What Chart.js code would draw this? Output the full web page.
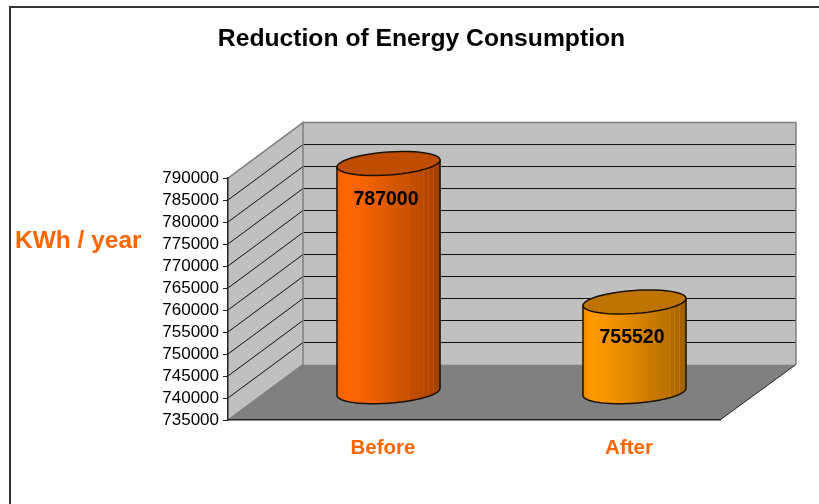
<!DOCTYPE html>
<html>
<head>
<meta charset="utf-8">
<title>Reduction of Energy Consumption</title>
<script src="https://cdn.jsdelivr.net/npm/chart.js@4"></script>
<style>
  html, body { margin: 0; padding: 0; background: #fff; }
  canvas { display: block; }
</style>
</head>
<body>
<canvas id="myChart" width="819" height="504"></canvas>
<script>
const categories = ["Before", "After"];
const consumption = [787000, 755520];
const yMin = 735000;
const yMax = 790000;
const yStep = 5000;
const unitLabel = "KWh / year";
const chartTitle = "Reduction of Energy Consumption";

const barColors = [[255, 102, 0], [255, 153, 0]];
// brightness across the cylinder, left to right
const shade = [[0, 0.93], [0.08, 1], [0.3, 0.95], [0.55, 0.84], [0.8, 0.74], [1, 0.62]];
// thin lighter bands on the dark side of the cylinder
const streaks = [0.69, 0.83, 0.88, 0.93];
const depthX = 75;
const depthY = 55.5;
const fontName = '"Liberation Sans", Arial, sans-serif';

const rgb = (c, f) => `rgb(${Math.round(c[0] * f)}, ${Math.round(c[1] * f)}, ${Math.round(c[2] * f)})`;

const drawWalls = (chart) => {
  const ctx = chart.ctx;
  const area = chart.chartArea;
  const yScale = chart.scales.y;
  const l = area.left, r = area.right, t = area.top, b = area.bottom;

  ctx.save();
  // outer frame, only left and top show up
  ctx.strokeStyle = "#333";
  ctx.lineWidth = 2;
  ctx.beginPath();
  ctx.moveTo(10, 504);
  ctx.lineTo(10, 7);
  ctx.lineTo(819, 7);
  ctx.stroke();

  // back wall and side wall
  ctx.fillStyle = "#c0c0c0";
  ctx.fillRect(l + depthX, t - depthY, r - l + 1, b - t);
  ctx.beginPath();
  ctx.moveTo(l, t);
  ctx.lineTo(l + depthX, t - depthY);
  ctx.lineTo(l + depthX, b - depthY);
  ctx.lineTo(l, b);
  ctx.closePath();
  ctx.fill();

  // floor
  ctx.fillStyle = "#808080";
  ctx.beginPath();
  ctx.moveTo(l, b);
  ctx.lineTo(l + depthX, b - depthY);
  ctx.lineTo(r + depthX + 1, b - depthY);
  ctx.lineTo(r, b);
  ctx.closePath();
  ctx.fill();

  // grid lines
  ctx.lineWidth = 1;
  ctx.strokeStyle = "#111";
  yScale.ticks.forEach((tick) => {
    if (tick.value === yMin || tick.value === yMax) return;
    const y = yScale.getPixelForValue(tick.value);
    ctx.beginPath();
    ctx.moveTo(l, y);
    ctx.lineTo(l + depthX, y - depthY);
    ctx.lineTo(r + depthX + 1, y - depthY);
    ctx.stroke();
  });

  // wall outline
  ctx.strokeStyle = "#808080";
  ctx.lineWidth = 1.5;
  ctx.beginPath();
  ctx.moveTo(l, b);
  ctx.lineTo(l + depthX, b - depthY);
  ctx.lineTo(l + depthX, t - depthY);
  ctx.lineTo(l, t);
  ctx.moveTo(l + depthX, t - depthY);
  ctx.lineTo(r + depthX + 1, t - depthY);
  ctx.lineTo(r + depthX + 1, b - depthY);
  ctx.stroke();

  // floor right edge
  ctx.strokeStyle = "#222";
  ctx.lineWidth = 1;
  ctx.beginPath();
  ctx.moveTo(r, b);
  ctx.lineTo(r + depthX + 1, b - depthY);
  ctx.stroke();

  // axis title sits flat left of the ticks
  ctx.fillStyle = "#ff6600";
  ctx.font = `bold 24.5px ${fontName}`;
  ctx.textAlign = "left";
  ctx.textBaseline = "middle";
  ctx.fillText(unitLabel, 15, 241);
  ctx.restore();
};

const ellipsePath = (ctx, cx, cy, rx, ry, lean, from, to) => {
  const steps = 48;
  for (let i = 0; i <= steps; i++) {
    const a = from + ((to - from) * i) / steps;
    const px = cx + rx * Math.cos(a);
    const py = cy + ry * Math.sin(a) - (lean * Math.cos(a));
    if (i === 0 && from === 0 && to === Math.PI * 2) ctx.moveTo(px, py);
    else ctx.lineTo(px, py);
  }
};

const drawCylinder = (chart, bar, color) => {
  const ctx = chart.ctx;
  const rx = bar.width / 2;
  const ry = 11.5;
  const lean = 3.5;
  const cx = bar.x + depthX / 2;
  const top = bar.y - depthY / 2;
  const base = bar.base - depthY / 2;

  const grad = ctx.createLinearGradient(cx - rx, 0, cx + rx, 0);
  shade.forEach((s) => grad.addColorStop(s[0], rgb(color, s[1])));

  const bodyPath = () => {
    ctx.beginPath();
    ctx.moveTo(cx - rx, top + lean);
    ctx.lineTo(cx - rx, base + lean);
    ellipsePath(ctx, cx, base, rx, ry, lean, Math.PI, 0);
    ctx.lineTo(cx + rx, top - lean);
    ctx.closePath();
  };

  ctx.save();
  ctx.lineJoin = "round";

  bodyPath();
  ctx.fillStyle = grad;
  ctx.fill();

  ctx.save();
  ctx.clip();
  ctx.strokeStyle = rgb(color, 0.85);
  ctx.globalAlpha = 0.6;
  ctx.lineWidth = 1;
  streaks.forEach((s) => {
    const x = Math.round(cx - rx + s * rx * 2) + 0.5;
    ctx.beginPath();
    ctx.moveTo(x, top - ry - lean);
    ctx.lineTo(x, base + ry + lean);
    ctx.stroke();
  });
  ctx.restore();

  ctx.lineWidth = 1.5;
  ctx.strokeStyle = "#1a1000";
  bodyPath();
  ctx.stroke();

  ctx.beginPath();
  ellipsePath(ctx, cx, top, rx, ry, lean, 0, Math.PI * 2);
  ctx.closePath();
  ctx.fillStyle = rgb(color, 0.75);
  ctx.fill();
  ctx.stroke();
  ctx.restore();
};

const cylinderPlugin = {
  id: "cylinders",
  beforeDraw: drawWalls,
  beforeDatasetDraw(chart, args) {
    const meta = chart.getDatasetMeta(args.index);
    meta.data.forEach((bar, i) => drawCylinder(chart, bar, barColors[i]));
    return false;
  },
  afterDatasetsDraw(chart) {
    const ctx = chart.ctx;
    const meta = chart.getDatasetMeta(0);
    ctx.save();
    ctx.fillStyle = "#000";
    ctx.font = `bold 19.5px ${fontName}`;
    ctx.textAlign = "center";
    ctx.textBaseline = "middle";
    meta.data.forEach((bar, i) => {
      ctx.fillText(String(consumption[i]), bar.x + depthX / 2 - 2.5, bar.y + 8);
    });
    ctx.restore();
  },
};

new Chart(document.getElementById("myChart"), {
  type: "bar",
  data: {
    labels: categories,
    datasets: [
      {
        data: consumption,
        base: yMin,
        backgroundColor: barColors.map((c) => rgb(c, 1)),
        barPercentage: 0.419,
        categoryPercentage: 1,
      },
    ],
  },
  options: {
    responsive: false,
    animation: false,
    layout: { padding: { left: 123, right: 99, top: 0, bottom: 0 } },
    plugins: {
      legend: { display: false },
      tooltip: { enabled: false },
      title: {
        display: true,
        text: chartTitle,
        color: "#000",
        font: { family: fontName, size: 24.7, weight: "bold", lineHeight: 1.2 },
        padding: { top: 24, bottom: 124.4 },
      },
    },
    scales: {
      x: {
        grid: { display: false },
        border: { color: "#222", width: 1.5 },
        afterFit: (scale) => { scale.height = 84; },
        ticks: {
          color: "#ff6600",
          font: { family: fontName, size: 20.5, weight: "bold" },
          padding: 8,
          labelOffset: 32,
          maxRotation: 0,
        },
      },
      y: {
        min: yMin,
        max: yMax,
        afterFit: (scale) => { scale.width = 105; },
        grid: { drawOnChartArea: false, color: "#222", tickLength: 5 },
        border: { color: "#222", width: 1.5 },
        ticks: {
          stepSize: yStep,
          color: "#000",
          padding: 4,
          autoSkip: false,
          font: { family: fontName, size: 17 },
          callback: (v) => String(v),
        },
      },
    },
  },
  plugins: [cylinderPlugin],
});
</script>
</body>
</html>
